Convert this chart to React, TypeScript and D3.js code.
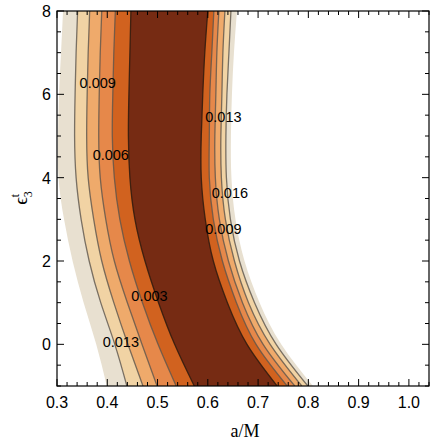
import React from "react";
import * as d3 from "d3";

// epsilon_3^t sample heights, and a/M of each contour boundary at those heights
const epsGrid = [8, 7, 6, 5, 4, 3, 2, 1, 0, -1];

// left edges, outer -> inner
const left0 = [0.312, 0.308, 0.304, 0.302, 0.303, 0.314, 0.331, 0.353, 0.378, 0.399];
const left1 = [0.341, 0.338, 0.336, 0.335, 0.338, 0.348, 0.364, 0.387, 0.415, 0.439];
const left2 = [0.365, 0.362, 0.36, 0.359, 0.362, 0.373, 0.389, 0.413, 0.441, 0.471];
const left3 = [0.389, 0.386, 0.384, 0.383, 0.386, 0.397, 0.414, 0.44, 0.469, 0.499];
const left4 = [0.416, 0.413, 0.411, 0.41, 0.414, 0.425, 0.444, 0.47, 0.501, 0.537];
const left5 = [0.447, 0.445, 0.443, 0.442, 0.445, 0.455, 0.475, 0.502, 0.534, 0.573];

// right edges, outer -> inner
const right0 = [0.658, 0.652, 0.648, 0.646, 0.647, 0.655, 0.673, 0.703, 0.746, 0.809];
const right1 = [0.646, 0.642, 0.638, 0.636, 0.637, 0.645, 0.663, 0.693, 0.736, 0.799];
const right2 = [0.634, 0.63, 0.628, 0.626, 0.627, 0.635, 0.653, 0.681, 0.724, 0.787];
const right3 = [0.622, 0.618, 0.616, 0.614, 0.615, 0.623, 0.641, 0.669, 0.71, 0.773];
const right4 = [0.612, 0.608, 0.604, 0.603, 0.603, 0.611, 0.629, 0.657, 0.696, 0.758];
const right5 = [0.6, 0.594, 0.59, 0.587, 0.587, 0.595, 0.611, 0.639, 0.678, 0.738];

const leftEdges = [left0, left1, left2, left3, left4, left5];
const rightEdges = [right0, right1, right2, right3, right4, right5];
const bandColors = ["#e8e0d0", "#f1d3a4", "#efaa6b", "#e6884a", "#d1621f", "#762b13"];

// contour labels
const labelText = ["0.009", "0.006", "0.013", "0.016", "0.009", "0.003", "0.013"];
const labelA = [0.381, 0.407, 0.631, 0.644, 0.631, 0.484, 0.427];
const labelEps = [6.28, 4.55, 5.46, 3.64, 2.78, 1.15, 0.05];

const xTicks = [0.3, 0.4, 0.5, 0.6, 0.7, 0.8, 0.9, 1.0];
const yTicks = [0, 2, 4, 6, 8];

const W = 436;
const H = 448;
const m = { left: 57, right: 7, top: 11, bottom: 62 };

export default function App() {
  const x = d3.scaleLinear().domain([0.3, 1.04]).range([m.left, W - m.right]);
  const y = d3.scaleLinear().domain([-1, 8]).range([H - m.bottom, m.top]);
  const x0 = m.left, x1 = W - m.right, y0 = H - m.bottom, y1 = m.top;

  const area = d3
    .area<number>()
    .curve(d3.curveNatural)
    .y((_, i) => y(epsGrid[i]));
  const line = d3
    .line<number>()
    .curve(d3.curveNatural)
    .x((d) => x(d))
    .y((_, i) => y(epsGrid[i]));

  const xMinor = d3.range(0, 38).map((i) => 0.3 + i * 0.02);
  const yMinor = d3.range(0, 19).map((i) => -1 + i * 0.5);
  const tickFont = "'Liberation Sans', Arial, sans-serif";

  return (
    <svg
      width={W}
      height={H}
      style={{ position: "absolute", left: 0, top: 0, background: "#fff" }}
    >
      <defs>
        <clipPath id="plot">
          <rect x={x0} y={y1} width={x1 - x0} height={y0 - y1} />
        </clipPath>
      </defs>
      <g clipPath="url(#plot)">
        {leftEdges.map((le, k) => (
          <path
            key={"b" + k}
            d={area.x0((_, i) => x(le[i])).x1((_, i) => x(rightEdges[k][i]))(le) || ""}
            fill={bandColors[k]}
          />
        ))}
        {[1, 2, 3, 4, 5].map((k) => (
          <g
            key={"l" + k}
            fill="none"
            stroke={k === 5 ? "#2e1a0e" : "#5d554c"}
            strokeOpacity={k === 5 ? 0.85 : 0.8}
            strokeWidth={1.3}
          >
            <path d={line(leftEdges[k]) || ""} />
            <path d={line(rightEdges[k]) || ""} />
          </g>
        ))}
        {labelText.map((t, i) => (
          <text
            key={"t" + i}
            x={x(labelA[i])}
            y={y(labelEps[i])}
            textAnchor="middle"
            dominantBaseline="central"
            fontFamily={tickFont}
            fontSize={14.5}
            fill="#000"
          >
            {t}
          </text>
        ))}
      </g>

      {/* ticks, inward on all sides */}
      <g stroke="#000" strokeWidth={1}>
        {xMinor.map((v, i) => {
          const major = xTicks.some((t) => Math.abs(t - v) < 1e-6);
          const len = major ? 7 : 4;
          return (
            <g key={"xt" + i}>
              <line x1={x(v)} x2={x(v)} y1={y0} y2={y0 - len} />
              <line x1={x(v)} x2={x(v)} y1={y1} y2={y1 + len} />
            </g>
          );
        })}
        {yMinor.map((v, i) => {
          const major = yTicks.includes(v);
          const len = major ? 7 : 4;
          return (
            <g key={"yt" + i}>
              <line y1={y(v)} y2={y(v)} x1={x0} x2={x0 + len} />
              <line y1={y(v)} y2={y(v)} x1={x1} x2={x1 - len} />
            </g>
          );
        })}
      </g>
      <rect x={x0} y={y1} width={x1 - x0} height={y0 - y1} fill="none" stroke="#000" strokeWidth={1.2} />

      {xTicks.map((t) => (
        <text key={"xl" + t} x={x(t)} y={y0 + 22} textAnchor="middle" fontFamily={tickFont} fontSize={16}>
          {t.toFixed(1)}
        </text>
      ))}
      {yTicks.map((t) => (
        <text key={"yl" + t} x={x0 - 6} y={y(t) + 6} textAnchor="end" fontFamily={tickFont} fontSize={16}>
          {t}
        </text>
      ))}

      <text x={245} y={437} textAnchor="middle" fontFamily="'Liberation Serif', 'Times New Roman', serif" fontSize={18}>
        a/M
      </text>
      <text
        transform="translate(27,198) rotate(-90)"
        textAnchor="middle"
        fontFamily="'Liberation Serif', 'Times New Roman', serif"
        fontSize={19}
      >
        <tspan>ϵ</tspan>
        <tspan fontSize={12} dy={5}>3</tspan>
        <tspan fontSize={12} dx={-6} dy={-13}>t</tspan>
      </text>
    </svg>
  );
}
